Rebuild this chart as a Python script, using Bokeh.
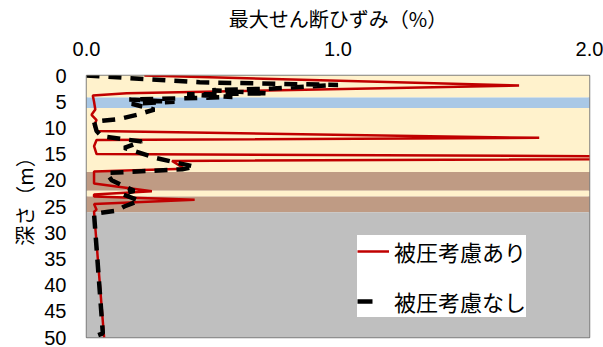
from bokeh.plotting import figure
from bokeh.models import Range1d, FixedTicker, NumeralTickFormatter, Legend, LegendItem
from bokeh.embed import file_html
from bokeh.resources import INLINE

# Maximum shear strain profile with pore pressure considered (depth m, strain %)
depth_with = [0.0, 1.9, 3.4, 3.8, 5.0, 6.5, 7.5, 8.5, 9.5, 10.6, 11.9, 12.3, 13.5,
              15.0, 15.7, 16.3, 17.8, 18.3, 20.6, 22.1, 22.7, 23.1, 23.7, 24.5,
              25.6, 26.0, 50.0]
strain_with = [0.23, 1.72, 0.16, 0.025, 0.03, 0.035, 0.02, 0.04, 0.03, 0.04, 1.80, 0.04, 0.03,
               0.04, 3.50, 0.34, 0.39, 0.03, 0.03, 0.26, 0.03, 0.03, 0.43, 0.03,
               0.04, 0.03, 0.07]

# Maximum shear strain profile without pore pressure (depth m, strain %)
depth_without = [0.0, 1.3, 1.8, 2.5, 2.8, 3.4, 3.6, 4.1, 4.6, 5.0, 5.4, 6.5, 7.5, 8.3,
                 8.8, 10.6, 11.6, 12.6, 13.8, 15.8, 17.4, 17.9, 18.6, 20.0, 22.0,
                 22.6, 23.9, 25.0, 25.8, 26.4, 49.2, 50.0]
strain_without = [0.0, 0.45, 1.0, 0.74, 0.5, 0.72, 0.4, 0.58, 0.17, 0.35, 0.18, 0.27, 0.2, 0.13,
                  0.03, 0.04, 0.06, 0.22, 0.15, 0.28, 0.43, 0.38, 0.08, 0.10, 0.19,
                  0.14, 0.21, 0.15, 0.12, 0.03, 0.065, 0.02]

# Soil layers (depth ranges in m)
layer_top = [0.0, 4.2, 6.2, 18.4, 22.0, 23.1, 26.1]
layer_bottom = [4.2, 6.2, 18.4, 22.0, 23.1, 26.1, 50.0]
layer_color = ["#FFF2CC", "#A9C8E6", "#FFF2CC", "#BF9B84", "#FFF2CC", "#BF9B84", "#BFBFBF"]

x_ticks = [0.0, 1.0, 2.0]
y_ticks = [0, 5, 10, 15, 20, 25, 30, 35, 40, 45, 50]

FONT = "Liberation Sans, Noto Sans CJK JP"
JP_FONT = "Noto Sans CJK JP"

p = figure(width=603, height=347, output_backend="svg", toolbar_location=None,
           x_range=Range1d(0, 2), y_range=Range1d(50, 0), x_axis_location="above",
           min_border_left=86, min_border_right=14, min_border_top=73, min_border_bottom=10)

p.background_fill_color = "white"
p.border_fill_color = "white"
p.grid.visible = False
p.outline_line_color = "#7F7F7F"
p.outline_line_width = 1.5

# soil layer bands
p.quad(left=0, right=2, top=layer_top, bottom=layer_bottom,
       fill_color=layer_color, line_color=None)

red = p.line(strain_with, depth_with, line_color="#C00000", line_width=2.5)
black = p.line(strain_without, depth_without, line_color="black", line_width=4.5,
               line_dash="13 9")
# hidden copy with a single long dash, used only as the legend swatch
black_key = p.line(strain_without, depth_without, line_color="black", line_width=4.5,
                   line_dash="15 40", visible=False)

xa = p.xaxis[0]
xa.ticker = FixedTicker(ticks=x_ticks)
xa.formatter = NumeralTickFormatter(format="0.0")
xa.axis_label = "最大せん断ひずみ（%）"
ya = p.yaxis[0]
ya.ticker = FixedTicker(ticks=y_ticks)
ya.axis_label = "　深さ（m）"

for ax in (xa, ya):
    ax.axis_line_color = None
    ax.major_tick_line_color = None
    ax.minor_tick_line_color = None
    ax.major_tick_in = 0
    ax.major_tick_out = 0
    ax.major_label_text_font = FONT
    ax.major_label_text_font_size = "20px"
    ax.major_label_text_color = "black"
    ax.axis_label_text_font = JP_FONT
    ax.axis_label_text_font_size = "20px"
    ax.axis_label_text_font_style = "normal"
    ax.axis_label_text_color = "black"

xa.major_label_standoff = 20
xa.axis_label_standoff = 6
ya.major_label_standoff = 20
ya.axis_label_standoff = 2

legend = Legend(items=[LegendItem(label="被圧考慮あり", renderers=[red]),
                       LegendItem(label="被圧考慮なし", renderers=[black_key])],
                location=(271, 20))
legend.background_fill_color = "white"
legend.background_fill_alpha = 1.0
legend.border_line_color = None
legend.inactive_fill_alpha = 0.0
legend.label_text_font = JP_FONT
legend.label_text_font_size = "22px"
legend.label_text_color = "black"
legend.glyph_width = 32
legend.glyph_height = 22
legend.label_height = 22
legend.label_standoff = 5
legend.spacing = 18
legend.padding = 10
legend.margin = 0
p.add_layout(legend, "center")

open("out.html", "w").write(file_html(p, INLINE))
